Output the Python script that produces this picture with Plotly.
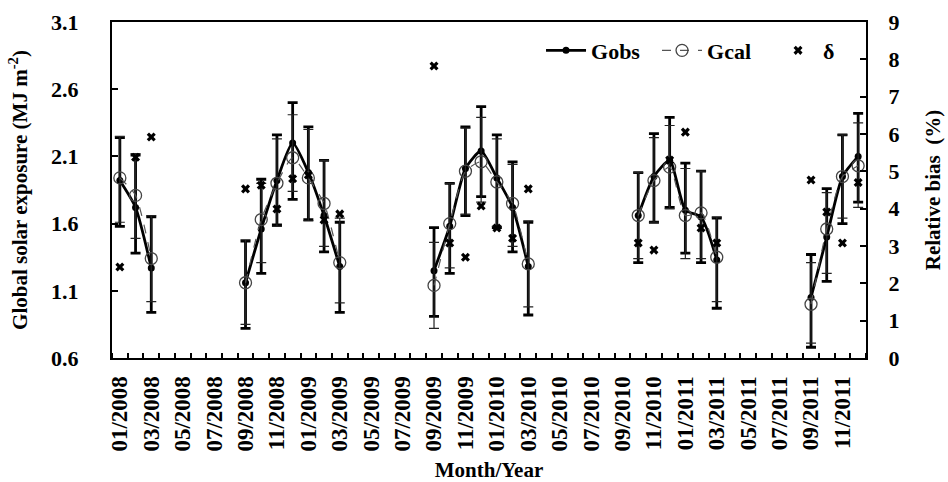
import plotly.graph_objects as go

# ---- data -----------------------------------------------------------------
months = [f"{m:02d}/{y}" for y in (2008, 2009, 2010, 2011) for m in range(1, 13)]
tick_labels = months[::2]          # every second month is labelled

N = None
gobs = [1.92, 1.72, 1.27, N, N, N, N, N,
        1.16, 1.56, 1.92, 2.20, 1.98, 1.66, 1.28, N, N, N, N, N,
        1.25, 1.58, 2.01, 2.14, 1.94, 1.72, 1.28, N, N, N, N, N, N,
        1.66, 1.95, 2.07, 1.70, 1.65, 1.33, N, N, N, N, N,
        1.05, 1.50, 1.95, 2.10]
gcal = [1.94, 1.81, 1.34, N, N, N, N, N,
        1.16, 1.63, 1.90, 2.09, 1.94, 1.75, 1.31, N, N, N, N, N,
        1.14, 1.60, 1.99, 2.06, 1.91, 1.75, 1.30, N, N, N, N, N, N,
        1.66, 1.92, 2.02, 1.66, 1.68, 1.35, N, N, N, N, N,
        1.00, 1.56, 1.95, 2.03]
obs_err_plus = [0.32, 0.39, 0.38, N, N, N, N, N,
                0.31, 0.37, 0.34, 0.30, 0.34, 0.41, 0.33, N, N, N, N, N,
                0.32, 0.32, 0.31, 0.33, 0.32, 0.34, 0.33, N, N, N, N, N, N,
                0.32, 0.32, 0.32, 0.35, 0.34, 0.31, N, N, N, N, N,
                0.32, 0.36, 0.31, 0.32]
obs_err_minus = [0.34, 0.34, 0.33, N, N, N, N, N,
                 0.34, 0.33, 0.33, 0.42, 0.35, 0.27, 0.34, N, N, N, N, N,
                 0.34, 0.35, 0.35, 0.34, 0.37, 0.33, 0.36, N, N, N, N, N, N,
                 0.35, 0.34, 0.35, 0.32, 0.34, 0.36, N, N, N, N, N,
                 0.37, 0.33, 0.35, 0.34]
cal_err_plus = [0.31, 0.31, 0.32, N, N, N, N, N,
                0.32, 0.27, 0.33, 0.32, 0.36, 0.32, 0.33, N, N, N, N, N,
                0.32, 0.30, 0.32, 0.33, 0.32, 0.29, 0.32, N, N, N, N, N, N,
                0.32, 0.32, 0.31, 0.35, 0.31, 0.30, N, N, N, N, N,
                0.31, 0.27, 0.31, 0.32]
cal_err_minus = [0.33, 0.32, 0.32, N, N, N, N, N,
                 0.31, 0.32, 0.32, 0.25, 0.32, 0.32, 0.30, N, N, N, N, N,
                 0.32, 0.33, 0.32, 0.30, 0.33, 0.32, 0.32, N, N, N, N, N, N,
                 0.32, 0.31, 0.31, 0.32, 0.34, 0.33, N, N, N, N, N,
                 0.29, 0.33, 0.31, 0.31]
delta = [2.44, 5.38, 5.92, N, N, N, N, N,
         4.53, 4.63, 3.99, 4.80, 4.90, 3.70, 3.86, N, N, N, N, N,
         7.82, 3.08, 2.70, 4.07, 3.48, 3.21, 4.53, N, N, N, N, N, N,
         3.08, 2.89, 5.30, 6.05, 3.48, 3.08, N, N, N, N, N,
         4.77, 3.91, 3.08, 4.70]

# month positions along the axis (one slot per month)
xpos = list(range(len(months)))
label_pos = xpos[::2]

FONT = "Liberation Serif, Times New Roman, serif"

fig = go.Figure()
fig.add_trace(go.Scatter(
    x=xpos, y=gobs, name="Gobs", mode="lines+markers",
    line=dict(color="black", width=2.8, shape="spline", smoothing=0.6),
    marker=dict(symbol="circle", size=7, color="black"),
    error_y=dict(type="data", symmetric=False, array=obs_err_plus,
                 arrayminus=obs_err_minus, thickness=2.8, width=5, color="black"),
    connectgaps=False))
fig.add_trace(go.Scatter(
    x=xpos, y=gcal, name="Gcal", mode="lines+markers",
    line=dict(color="#555555", width=1.2, dash="dash", shape="spline", smoothing=0.6),
    marker=dict(symbol="circle-open", size=12, color="#444444", line=dict(width=1.3)),
    error_y=dict(type="data", symmetric=False, array=cal_err_plus,
                 arrayminus=cal_err_minus, thickness=1.2, width=5, color="#222222"),
    connectgaps=False))
fig.add_trace(go.Scatter(
    x=xpos, y=delta, name="δ", mode="markers", yaxis="y2",
    marker=dict(symbol="x", size=8, color="black")))

xtick_font = dict(family=FONT, size=23, color="black", weight="bold")
ytick_font = dict(family=FONT, size=22, color="black", weight="bold")
title_font = dict(family=FONT, size=21, color="black", weight="bold")

fig.update_layout(
    width=948, height=482,
    margin=dict(l=112, r=82, t=22, b=124),
    paper_bgcolor="white", plot_bgcolor="white",
    font=dict(family=FONT, color="black"),
    xaxis=dict(
        tickmode="array", tickvals=label_pos, ticktext=tick_labels,
        ticks="", tickangle=-90, tickfont=xtick_font, ticklabelstandoff=7,
        minor=dict(tickmode="linear", tick0=-0.5, dtick=1, ticks="inside",
                   ticklen=5, tickwidth=1.5, tickcolor="black", showgrid=False),
        showline=True, linewidth=2, linecolor="black", mirror=True,
        showgrid=False, zeroline=False, range=[-0.5, 47.5], automargin=False,
        title=dict(text="Month/Year", font=title_font, standoff=12)),
    yaxis=dict(
        range=[0.6, 3.1], tick0=0.6, dtick=0.5, tickformat=".1f",
        ticks="inside", ticklen=6, tickwidth=1.5, tickcolor="black",
        tickfont=ytick_font, ticklabelstandoff=27,
        showline=True, linewidth=2, linecolor="black", mirror=True,
        showgrid=False, zeroline=False, automargin=False,
        title=dict(text="Global solar exposure (MJ m<sup>-2</sup>)", font=title_font, standoff=18)),
    yaxis2=dict(
        overlaying="y", side="right", range=[0, 9], tick0=0, dtick=1,
        ticks="inside", ticklen=6, tickwidth=1.5, tickcolor="black",
        tickfont=ytick_font, ticklabelstandoff=16,
        showline=True, linewidth=2, linecolor="black",
        showgrid=False, zeroline=False, automargin=False,
        title=dict(text="Relative bias  (%)", font=title_font, standoff=27)),
    legend=dict(
        orientation="h", x=0.569, xanchor="left", y=0.915, yanchor="middle",
        bgcolor="rgba(0,0,0,0)", font=dict(family=FONT, size=22, color="black", weight="bold"),
        itemwidth=40, entrywidth=61, tracegroupgap=0),
)

fig.write_html("out.html")
